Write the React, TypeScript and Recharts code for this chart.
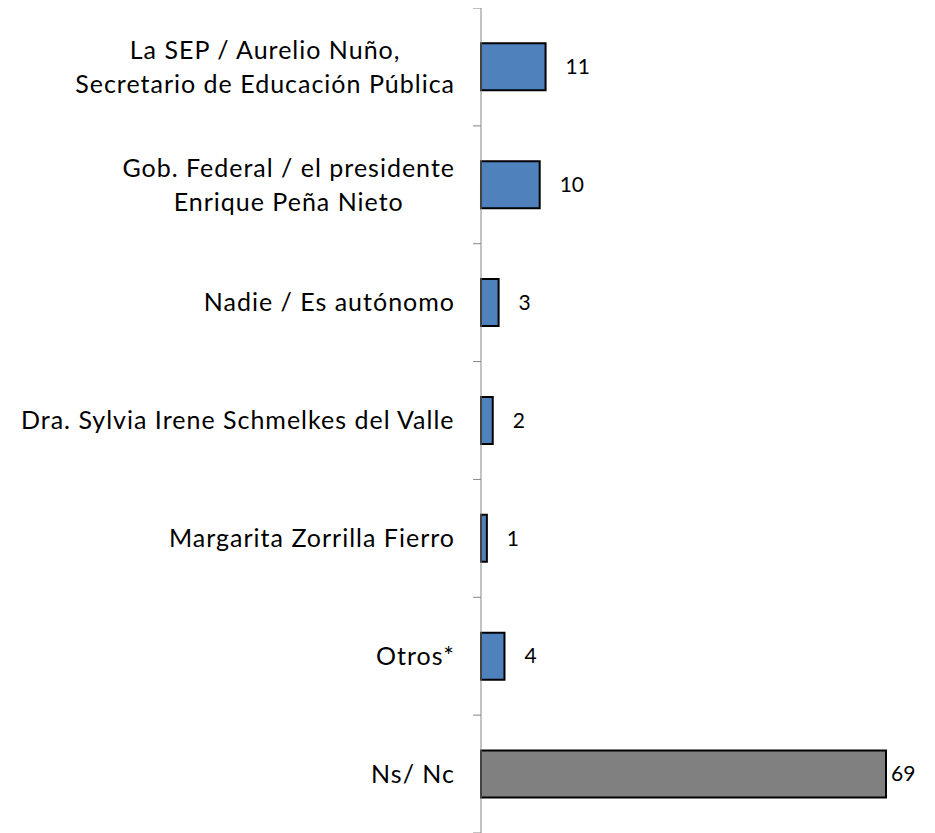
import React from "react";
import { BarChart, Bar, XAxis, YAxis, Cell, LabelList } from "recharts";

const categories = [
  "La SEP / Aurelio Nuño,\nSecretario de Educación Pública",
  "Gob. Federal / el presidente\nEnrique Peña Nieto",
  "Nadie / Es autónomo",
  "Dra. Sylvia Irene Schmelkes del Valle",
  "Margarita Zorrilla Fierro",
  "Otros*",
  "Ns/ Nc",
];
const values = [11, 10, 3, 2, 1, 4, 69];
const barColors = ["#4F81BD", "#4F81BD", "#4F81BD", "#4F81BD", "#4F81BD", "#4F81BD", "#808080"];

const data = categories.map((name, i) => ({ name, value: values[i], color: barColors[i] }));

const FONT = "Lato";
const FS = 25;
const LS = 1;
const AXIS_COLOR = "#868686";
const TICK_SIZE = 8;
const TICK_MARGIN = 18;
const LINE_H = 34;

let ctx: CanvasRenderingContext2D | null = null;
function measure(t: string): number {
  if (!ctx) {
    const c = document.createElement("canvas");
    ctx = c.getContext("2d");
  }
  if (!ctx) return t.length * FS * 0.5;
  ctx.font = `${FS}px ${FONT}`;
  return ctx.measureText(t).width + t.length * LS;
}

const CategoryTick = (props: any) => {
  const { x, y, payload, index } = props;
  const lines: string[] = String(payload.value).split("\n");
  const maxW = Math.max(...lines.map(measure));
  const cx = x - maxW / 2;
  const axisX = x + TICK_MARGIN + TICK_SIZE;
  const half = payload.offset && payload.offset > 0 ? payload.offset : 825 / 7 / 2;
  const startY = y - ((lines.length - 1) * LINE_H) / 2;
  return (
    <g>
      <line x1={axisX - TICK_SIZE} x2={axisX} y1={y - half} y2={y - half} stroke={AXIS_COLOR} strokeWidth={1} />
      {index === categories.length - 1 && (
        <line x1={axisX - TICK_SIZE} x2={axisX} y1={y + half} y2={y + half} stroke={AXIS_COLOR} strokeWidth={1} />
      )}
      <text x={cx} y={startY} textAnchor="middle" fontFamily={FONT} fontSize={FS} letterSpacing={LS} fill="#000">
        {lines.map((l, i) => (
          <tspan key={i} x={cx} y={startY + i * LINE_H} dy="0.35em">
            {l}
          </tspan>
        ))}
      </text>
    </g>
  );
};

const ValueLabel = (props: any) => {
  const { x, y, width, height, value } = props;
  const lx = Math.min(x + width + 20, 883);
  return (
    <text x={lx} y={y + height / 2} dy="0.35em" textAnchor="start" fontFamily={FONT} fontSize={21} fill="#000">
      {value}
    </text>
  );
};

export default function App() {
  return (
    <BarChart
      width={919}
      height={825}
      data={data}
      layout="vertical"
      margin={{ top: 0, right: 41, bottom: 0, left: 0 }}
      barCategoryGap="30%"
    >
      <XAxis type="number" domain={[0, 69]} hide />
      <YAxis
        type="category"
        dataKey="name"
        width={473}
        axisLine={{ stroke: AXIS_COLOR, strokeWidth: 1 }}
        tickLine={false}
        tickSize={TICK_SIZE}
        tickMargin={TICK_MARGIN}
        tick={<CategoryTick />}
        interval={0}
      />
      <Bar dataKey="value" isAnimationActive={false} stroke="#000" strokeWidth={2}>
        {data.map((d, i) => (
          <Cell key={i} fill={d.color} />
        ))}
        <LabelList dataKey="value" content={<ValueLabel />} />
      </Bar>
    </BarChart>
  );
}
